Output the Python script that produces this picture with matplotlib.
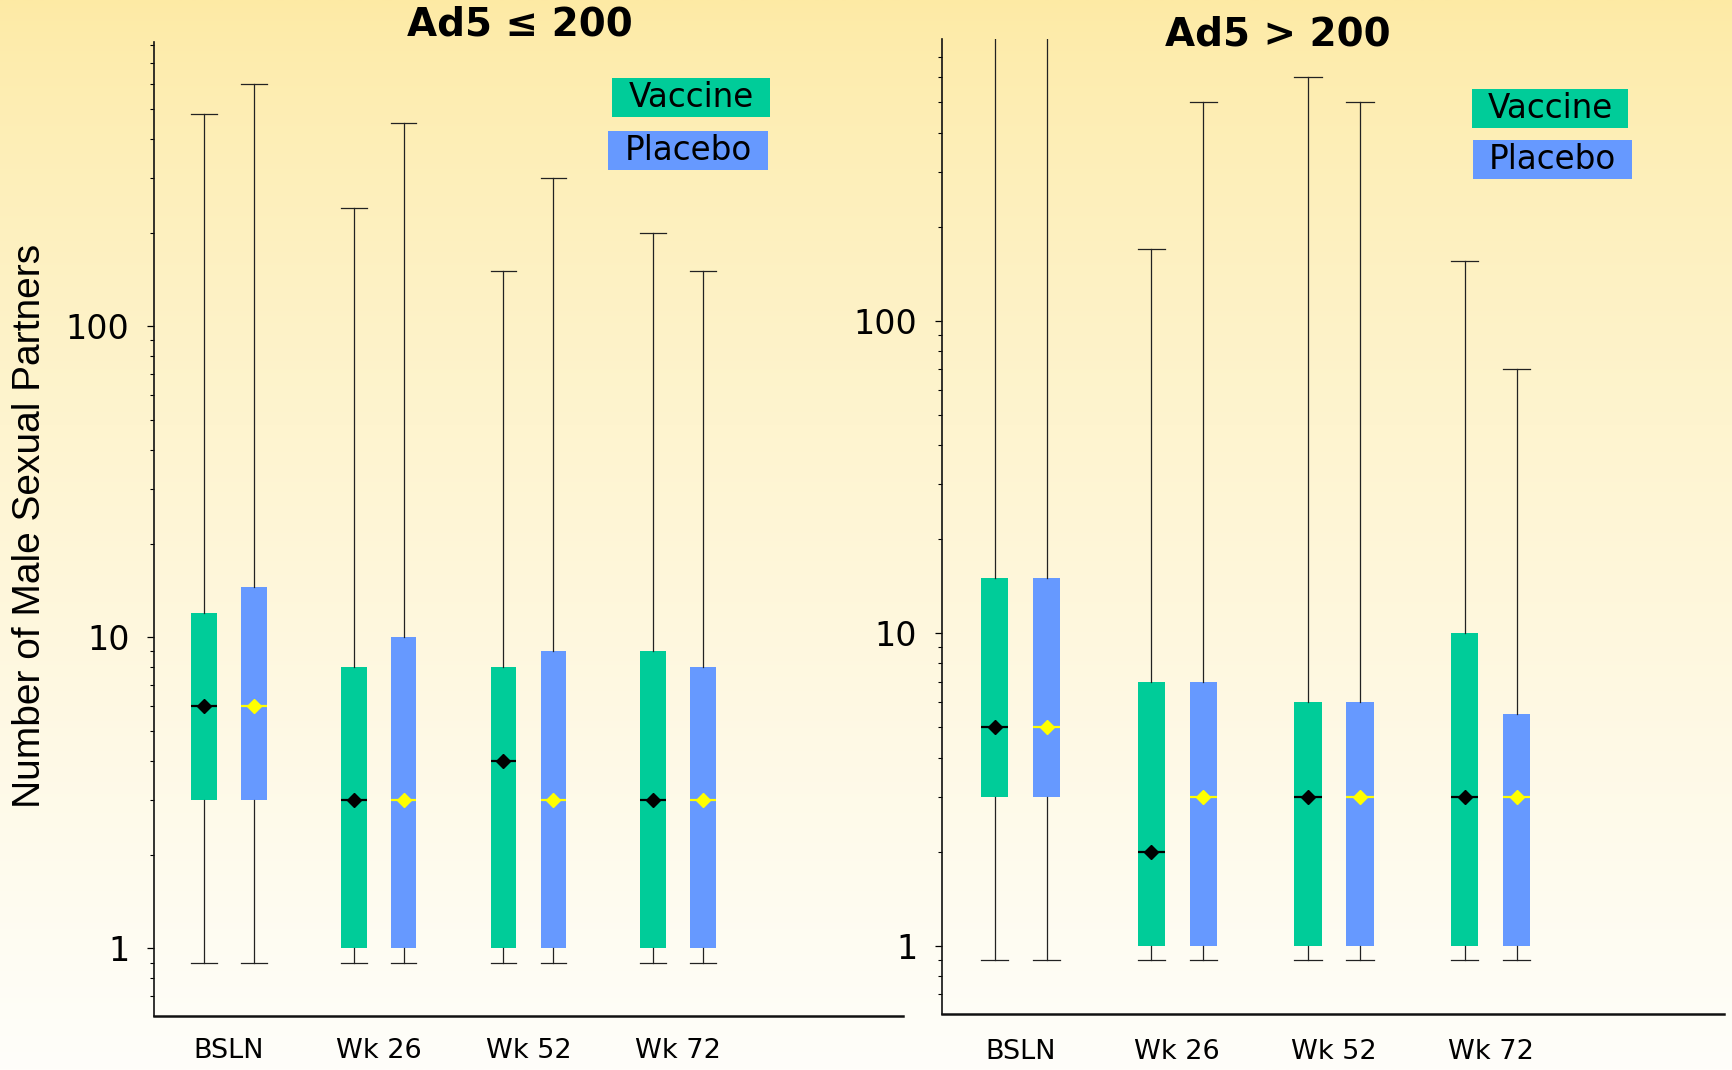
import numpy as np
import matplotlib
matplotlib.use("Agg")
import matplotlib.pyplot as plt
from matplotlib.patches import Rectangle
from matplotlib.ticker import LogLocator, FixedLocator, NullFormatter, FixedFormatter

# ---------------- data ----------------
timepoints = ["BSLN", "Wk 26", "Wk 52", "Wk 72"]
groups = ["Vaccine", "Placebo"]
panel_titles = ["Ad5 \u2264 200", "Ad5 > 200"]
ytick_vals = [1, 10, 100]
ytick_labels = ["1", "10", "100"]
y_label = "Number of Male Sexual Partners"

# Panel 1: Ad5 <= 200
low_vac_min = [0.9, 0.9, 0.9, 0.9]
low_vac_q1 = [3, 1, 1, 1]
low_vac_med = [6, 3, 4, 3]
low_vac_q3 = [12, 8, 8, 9]
low_vac_max = [480, 240, 150, 200]

low_pla_min = [0.9, 0.9, 0.9, 0.9]
low_pla_q1 = [3, 1, 1, 1]
low_pla_med = [6, 3, 3, 3]
low_pla_q3 = [14.5, 10, 9, 8]
low_pla_max = [600, 450, 300, 150]

# Panel 2: Ad5 > 200
high_vac_min = [0.9, 0.9, 0.9, 0.9]
high_vac_q1 = [3, 1, 1, 1]
high_vac_med = [5, 2, 3, 3]
high_vac_q3 = [15, 7, 6, 10]
high_vac_max = [1000, 170, 600, 155]

high_pla_min = [0.9, 0.9, 0.9, 0.9]
high_pla_q1 = [3, 1, 1, 1]
high_pla_med = [5, 3, 3, 3]
high_pla_q3 = [15, 7, 6, 5.5]
high_pla_max = [1000, 500, 500, 70]

# ---------------- style ----------------
W, H = 1733, 1070
DPI = 100
VAC_COLOR = "#00CC99"
PLA_COLOR = "#6699FF"
VAC_MED = "#000000"
PLA_MED = "#FFFF00"
WHISK = "#222222"
FONT_H = "DejaVu Sans"
FONT_V = "Liberation Sans"

fig = plt.figure(figsize=(W / DPI, H / DPI), dpi=DPI)

# gradient background
bg = fig.add_axes([0, 0, 1, 1], zorder=-10)
t = np.linspace(0, 1, 400)[:, None] ** 0.75
top = np.array([253, 234, 164]) / 255.0
bot = np.array([255, 254, 250]) / 255.0
grad = top[None, None, :] * (1 - t[..., None]) + bot[None, None, :] * t[..., None]
grad = np.repeat(grad, 2, axis=1)
bg.imshow(grad, aspect="auto", extent=[0, 1, 0, 1], origin="upper")
bg.set_axis_off()


def px_rect(x0, y0, x1, y1):
    return [x0 / W, 1 - y1 / H, (x1 - x0) / W, (y1 - y0) / H]


panels = [
    dict(rect=px_rect(153.6, 41.7, 903, 1015.5), ylim=(0.608, 822), xlim=(-0.502, 4.5),
         width=0.172, off=0.1667, xpad=16,
         vac=(low_vac_min, low_vac_q1, low_vac_med, low_vac_q3, low_vac_max),
         pla=(low_pla_min, low_pla_q1, low_pla_med, low_pla_q3, low_pla_max),
         title=panel_titles[0], title_xy=(520, 24.5),
         leg=[(612, 78.3, 770, 116.7), (608, 131, 768, 169.7)]),
    dict(rect=px_rect(941.5, 39.3, 1724, 1014.3), ylim=(0.603, 795), xlim=(-0.505, 4.489),
         width=0.176, off=0.166, xpad=17.5,
         vac=(high_vac_min, high_vac_q1, high_vac_med, high_vac_q3, high_vac_max),
         pla=(high_pla_min, high_pla_q1, high_pla_med, high_pla_q3, high_pla_max),
         title=panel_titles[1], title_xy=(1277.5, 34.5),
         leg=[(1472, 89.3, 1628.5, 127.7), (1473, 140, 1632, 178.7)]),
]

for p in panels:
    ax = fig.add_axes(p["rect"])
    ax.set_facecolor("none")
    ax.set_yscale("log")
    centers = np.arange(len(timepoints))
    for series, sign, fc, mc in [(p["vac"], -1, VAC_COLOR, VAC_MED), (p["pla"], 1, PLA_COLOR, PLA_MED)]:
        mn, q1, med, q3, mx = series
        stats = [dict(whislo=mn[i], q1=q1[i], med=med[i], q3=q3[i], whishi=mx[i], fliers=[])
                 for i in range(len(timepoints))]
        pos = centers + sign * p["off"]
        ax.bxp(stats, positions=pos, widths=p["width"], patch_artist=True, showfliers=False,
               manage_ticks=False,
               boxprops=dict(facecolor=fc, edgecolor=fc, linewidth=0),
               medianprops=dict(color=mc, linewidth=1.6),
               whiskerprops=dict(color=WHISK, linewidth=0.9),
               capprops=dict(color=WHISK, linewidth=0.9),
               capwidths=p["width"])
        ax.plot(pos, med, linestyle="none", marker="D", markersize=7,
                color=mc, markeredgecolor=mc, zorder=5)

    ax.set_xlim(*p["xlim"])
    ax.set_ylim(*p["ylim"])
    for s in ["top", "right"]:
        ax.spines[s].set_visible(False)
    ax.spines["left"].set_linewidth(1.2)
    ax.spines["bottom"].set_linewidth(1.8)
    ax.spines["left"].set_color("#111111")
    ax.spines["bottom"].set_color("#111111")

    ax.yaxis.set_major_locator(FixedLocator(ytick_vals))
    ax.yaxis.set_major_formatter(FixedFormatter(ytick_labels))
    ax.yaxis.set_minor_locator(LogLocator(base=10, subs=np.arange(2, 10), numticks=20))
    ax.yaxis.set_minor_formatter(NullFormatter())
    ax.tick_params(axis="y", which="major", length=5.4, width=0.9, pad=12,
                   labelsize=24, direction="out")
    ax.tick_params(axis="y", which="minor", length=2.6, width=0.8, direction="out")
    for lab in ax.get_yticklabels():
        lab.set_fontfamily(FONT_H)

    ax.set_xticks(centers)
    ax.set_xticklabels(timepoints, fontsize=19.5, fontfamily=FONT_H)
    ax.tick_params(axis="x", length=0, pad=p["xpad"])

    # title
    fig.text(p["title_xy"][0] / W, 1 - p["title_xy"][1] / H, p["title"], ha="center",
             va="center", fontsize=28, fontweight="bold", fontfamily=FONT_H)

    # legend boxes
    for (x0, y0, x1, y1), name, fc in zip(p["leg"], groups, [VAC_COLOR, PLA_COLOR]):
        fig.add_artist(Rectangle((x0 / W, 1 - y1 / H), (x1 - x0) / W, (y1 - y0) / H,
                                 transform=fig.transFigure, facecolor=fc, edgecolor="none"))
        fig.text((x0 + x1) / 2 / W, 1 - (y0 + y1) / 2 / H, name, ha="center", va="center",
                 fontsize=23.5, fontfamily=FONT_H, color="black")

fig.text(30 / W, 1 - 526 / H, y_label, rotation=90, ha="center", va="center",
         fontsize=28, fontfamily=FONT_V)

fig.savefig("out.png", dpi=DPI)
